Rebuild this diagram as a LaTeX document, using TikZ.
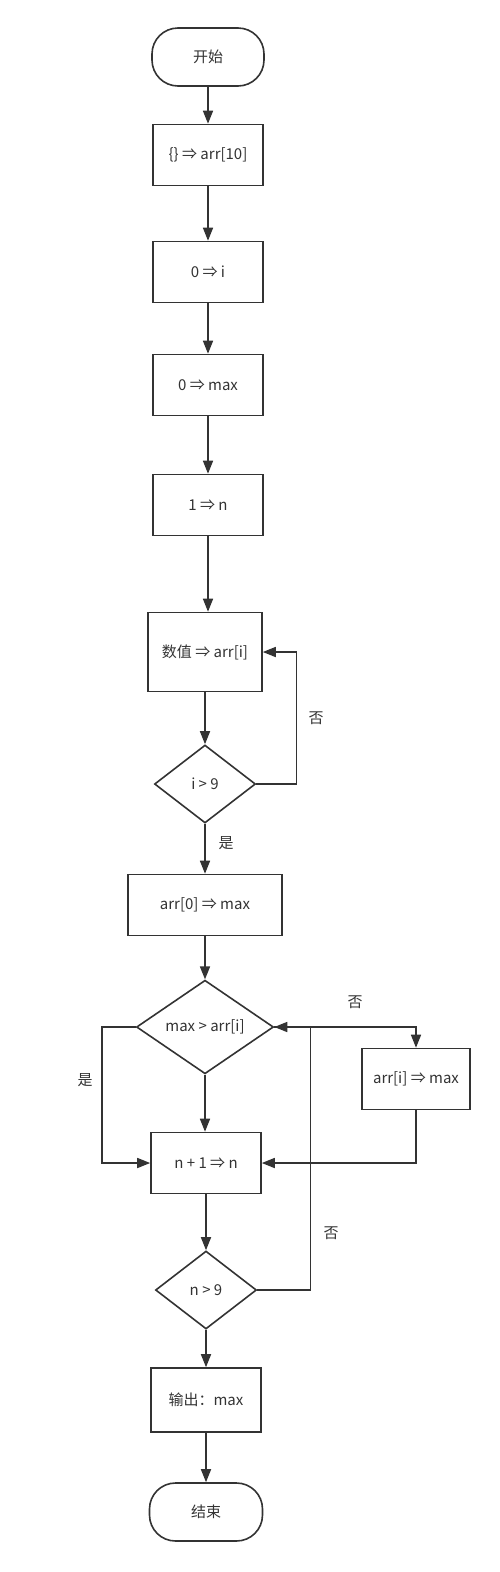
\documentclass[tikz,border=0pt]{standalone}
\usepackage{fontspec}
\setmainfont{Noto Sans CJK SC}
\usepackage{tikz}
\usetikzlibrary{shapes.geometric,arrows.meta}
\definecolor{fcink}{HTML}{333333}

\begin{document}
\begin{tikzpicture}[x=1pt,y=-1pt,
  every node/.style={draw=fcink,line width=1.6pt,text=fcink,font=\fontsize{15}{17}\selectfont},
  term/.style={rectangle,rounded corners=26pt,minimum width=112pt,minimum height=58pt},
  proc/.style={rectangle,minimum width=110pt,minimum height=61pt},
  dec/.style={diamond,inner sep=0pt,minimum width=101pt,minimum height=78pt},
  lbl/.style={draw=none,inner sep=0pt},
  flow/.style={draw=fcink,line width=1.6pt,-{Triangle[width=10pt,length=13pt]}}]
\useasboundingbox (0,0) rectangle (500,1572);
\node[term] (start) at (208,57) {开始};
\node[proc] (init) at (208,155) {\{\} ⇒ arr[10]};
\node[proc] (seti) at (208,272) {0 ⇒ i};
\node[proc] (setmax) at (208,385) {0 ⇒ max};
\node[proc] (setn) at (208,505) {1 ⇒ n};
\node[proc,minimum width=114pt,minimum height=79pt] (input) at (205,652) {数值 ⇒ arr[i]};
\node[dec] (chki) at (205,784) {i > 9};
\node[proc,minimum width=154pt] (firstmax) at (205,905) {arr[0] ⇒ max};
\node[dec,minimum width=137pt,minimum height=79pt] (cmp) at (205,1027) {max > arr[i]};
\node[proc,minimum width=108pt] (newmax) at (416,1079) {arr[i] ⇒ max};
\node[proc] (incn) at (206,1163) {n + 1 ⇒ n};
\node[dec] (chkn) at (206,1290) {n > 9};
\node[proc,minimum height=64pt] (output) at (206,1400) {输出：max};
\node[term,minimum width=113pt] (stop) at (206,1512) {结束};
\draw[flow] (start) -- (init);
\draw[flow] (init) -- (seti);
\draw[flow] (seti) -- (setmax);
\draw[flow] (setmax) -- (setn);
\draw[flow] (setn.south) -- (setn.south |- input.north);
\draw[flow] (input) -- (chki);
\draw[flow] (chki.east) -- ++(40,0) |- (input.east);
\node[lbl] at (316,718) {否};
\draw[flow] (chki) -- (firstmax);
\node[lbl] at (226,843) {是};
\draw[flow] (firstmax) -- (cmp);
\draw[flow] (cmp.west) -- ++(-34,0) |- (incn.west);
\node[lbl] at (85,1080) {是};
\draw[flow] (cmp.east) -| (newmax.north);
\node[lbl] at (355,1002) {否};
\draw[flow] (cmp.south) -- (cmp.south |- incn.north);
\draw[flow] (newmax.south) |- (incn.east);
\draw[flow] (incn) -- (chkn);
\draw[flow] (chkn.east) -- ++(53,0) |- (cmp.east);
\node[lbl] at (331,1233) {否};
\draw[flow] (chkn) -- (output);
\draw[flow] (output) -- (stop);
\end{tikzpicture}
\end{document}
